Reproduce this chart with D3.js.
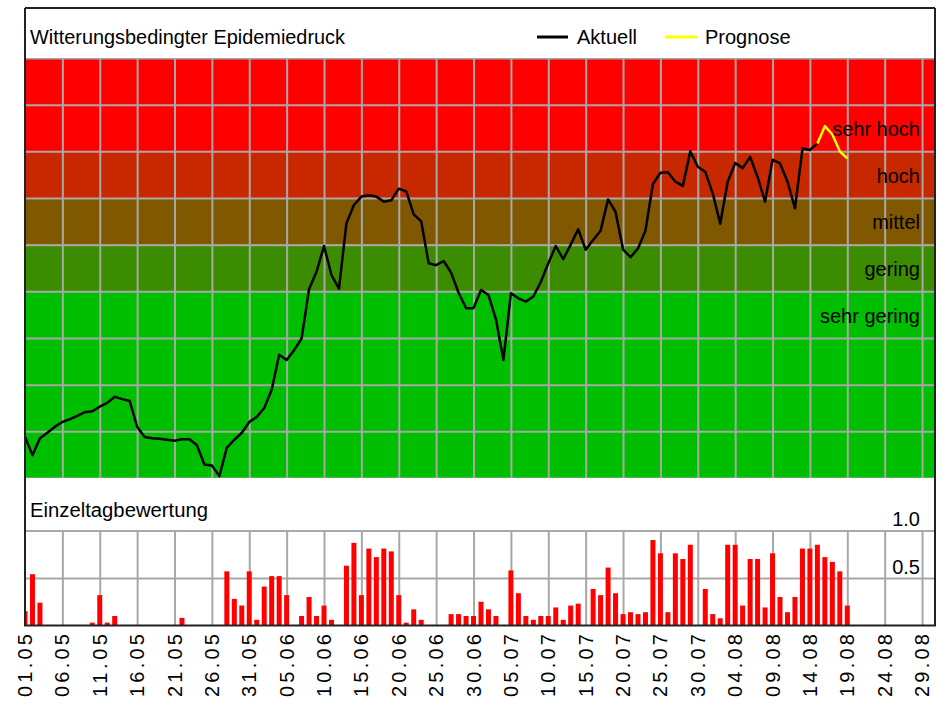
<!DOCTYPE html>
<html><head><meta charset="utf-8">
<script src="https://cdn.jsdelivr.net/npm/d3@7"></script>
<style>
html,body{margin:0;padding:0;background:#fff;}
svg{display:block;font-family:"Liberation Sans",Arial,sans-serif;}
</style></head><body>
<svg id="chart" width="941" height="701"></svg>
<script>
// ---------- DATA ----------
const tickLabels = ["01.05","06.05","11.05","16.05","21.05","26.05","31.05","05.06","10.06","15.06","20.06","25.06","30.06","05.07","10.07","15.07","20.07","25.07","30.07","04.08","09.08","14.08","19.08","24.08","29.08"];
const tickDays = [0,5,10,15,20,25,30,35,40,45,50,55,60,65,70,75,80,85,90,95,100,105,110,115,120];

const bandNames  = ["sehr gering","gering","mittel","hoch","sehr hoch"];
const bandLower  = [0,4,5,6,7];
const bandUpper  = [4,5,6,7,9];
const bandLabelAt = [3.5,4.5,5.5,6.5,7.5];
const bandColors = ["#00be00","#3c8c00","#805800","#c82800","#ff0000"];

// daily values starting 01.05 (day 0)
const aktuell = [0.88,0.49,0.85,0.97,1.10,1.20,1.26,1.33,1.41,1.43,
  1.53,1.61,1.74,1.69,1.65,1.10,0.88,0.85,0.84,0.82,
  0.80,0.83,0.83,0.70,0.29,0.27,0.04,0.65,0.82,0.97,
  1.20,1.31,1.50,1.89,2.64,2.53,2.74,2.99,4.05,4.42,
  4.97,4.35,4.06,5.46,5.85,6.03,6.06,6.03,5.92,5.95,
  6.20,6.14,5.65,5.50,4.60,4.56,4.65,4.40,3.97,3.64,
  3.64,4.03,3.92,3.40,2.53,3.96,3.85,3.78,3.89,4.20,
  4.60,4.97,4.69,5.00,5.33,4.89,5.10,5.30,5.97,5.70,
  4.90,4.73,4.92,5.30,6.30,6.54,6.55,6.35,6.26,7.00,
  6.67,6.56,6.10,5.45,6.35,6.75,6.64,6.88,6.45,5.92,
  6.82,6.74,6.35,5.78,7.06,7.03,7.17];
const prognoseStart = 106;
const prognose = [7.17,7.54,7.36,7.00,6.85];

const einzeltag = [0.15,0.54,0.24,0,0,0,0,0,0,0.03,
  0.32,0.03,0.10,0,0,0,0,0,0,0,
  0,0.08,0,0,0,0,0,0.57,0.28,0.21,
  0.57,0.06,0.41,0.52,0.52,0.32,0,0.10,0.30,0.10,
  0.21,0.06,0,0.63,0.87,0.32,0.81,0.72,0.81,0.78,
  0.32,0.03,0.17,0.06,0,0,0,0.12,0.12,0.10,
  0.10,0.25,0.17,0.10,0,0.58,0.34,0.10,0.06,0.10,
  0.10,0.19,0.06,0.21,0.23,0,0.385,0.32,0.61,0.34,
  0.12,0.14,0.12,0.14,0.90,0.76,0.14,0.76,0.70,0.85,
  0,0.385,0.12,0.076,0.85,0.85,0.21,0.70,0.70,0.19,
  0.76,0.30,0.14,0.30,0.81,0.81,0.85,0.72,0.67,0.57,
  0.21];
const einzelTicks = [0.5, 1.0];
const einzelTickLabels = ["0.5","1.0"];

(function(){
// ---------- LAYOUT ----------
const L = 25, R = 935, TOP = 8;
const svg = d3.select("#chart");
const x = d3.scaleLinear().domain([0,122]).range([25,937]);
const yT = d3.scaleLinear().domain([0,9]).range([478,58]);
const yB = d3.scaleLinear().domain([0,1]).range([625.5,530.5]);
const gridCol = "#a8a8a8";

const defs = svg.append("defs");
defs.append("clipPath").attr("id","clipTop").append("rect")
  .attr("x",L).attr("y",yT(9)).attr("width",R-L).attr("height",yT(0)-yT(9));
defs.append("clipPath").attr("id","clipBot").append("rect")
  .attr("x",L).attr("y",yB(1)-1).attr("width",R-L).attr("height",yB(0)-yB(1)+1);

// ---------- UPPER PANEL ----------
const gTop = svg.append("g").attr("clip-path","url(#clipTop)");
gTop.selectAll("rect.band").data(bandNames).join("rect")
  .attr("x",L).attr("width",R-L)
  .attr("y",(d,i)=>yT(bandUpper[i]))
  .attr("height",(d,i)=>yT(bandLower[i])-yT(bandUpper[i]))
  .attr("fill",(d,i)=>bandColors[i]);

const yGrid = d3.axisLeft(yT).ticks(9).tickSize(-(R-L)).tickFormat("");
gTop.append("g").attr("transform",`translate(${L},0)`).call(yGrid)
  .call(g=>g.select(".domain").remove())
  .call(g=>g.selectAll("line").attr("stroke",gridCol).attr("stroke-width",2));
const xGridTop = d3.axisBottom(x).tickValues(tickDays.slice(1)).tickSize(-(yT(0)-yT(9))).tickFormat("");
gTop.append("g").attr("transform",`translate(0,${yT(0)})`).call(xGridTop)
  .call(g=>g.select(".domain").remove())
  .call(g=>g.selectAll("line").attr("stroke",gridCol).attr("stroke-width",2));

gTop.selectAll("text.band").data(bandNames).join("text")
  .attr("x",920).attr("y",(d,i)=>yT(bandLabelAt[i])+8)
  .attr("text-anchor","end").attr("font-size",20).attr("fill","#000")
  .text(d=>d);

const line = d3.line().x(d=>x(d[0])).y(d=>yT(d[1])).curve(d3.curveLinear);
gTop.append("path").datum(aktuell.map((v,i)=>[i,v]))
  .attr("d",line).attr("fill","none").attr("stroke","#000")
  .attr("stroke-width",2.5).attr("stroke-linejoin","round");
gTop.append("path").datum(prognose.map((v,i)=>[prognoseStart+i,v]))
  .attr("d",line).attr("fill","none").attr("stroke","#ffff00")
  .attr("stroke-width",2.5).attr("stroke-linejoin","round");

// title + legend
svg.append("text").attr("x",30).attr("y",44).attr("font-size",20)
  .attr("textLength",315).attr("lengthAdjust","spacingAndGlyphs")
  .text("Witterungsbedingter Epidemiedruck");
svg.append("line").attr("x1",537).attr("x2",568).attr("y1",37).attr("y2",37)
  .attr("stroke","#000").attr("stroke-width",3);
svg.append("text").attr("x",577).attr("y",44).attr("font-size",20).text("Aktuell");
svg.append("line").attr("x1",665).attr("x2",697).attr("y1",37).attr("y2",37)
  .attr("stroke","#ffff00").attr("stroke-width",3);
svg.append("text").attr("x",705).attr("y",44).attr("font-size",20).text("Prognose");

// ---------- LOWER PANEL ----------
svg.append("text").attr("x",30).attr("y",517).attr("font-size",20)
  .attr("textLength",178).attr("lengthAdjust","spacingAndGlyphs")
  .text("Einzeltagbewertung");

const gBot = svg.append("g").attr("clip-path","url(#clipBot)");
const yGridB = d3.axisLeft(yB).tickValues(einzelTicks).tickSize(-(R-L)).tickFormat("");
gBot.append("g").attr("transform",`translate(${L},0)`).call(yGridB)
  .call(g=>g.select(".domain").remove())
  .call(g=>g.selectAll("line").attr("stroke",gridCol).attr("stroke-width",2));
const xGridBot = d3.axisBottom(x).tickValues(tickDays.slice(1)).tickSize(-(yB(0)-yB(1))).tickFormat("");
gBot.append("g").attr("transform",`translate(0,${yB(0)})`).call(xGridBot)
  .call(g=>g.select(".domain").remove())
  .call(g=>g.selectAll("line").attr("stroke",gridCol).attr("stroke-width",2));

const bw = 5;
gBot.selectAll("rect.bar").data(einzeltag).join("rect")
  .attr("x",(d,i)=>x(i)-bw/2).attr("width",bw)
  .attr("y",d=>yB(d)).attr("height",d=>yB(0)-yB(d))
  .attr("fill","#ff0000");

svg.selectAll("text.ylab").data(einzelTicks).join("text")
  .attr("x",920).attr("y",d=>yB(d)-4.5).attr("text-anchor","end")
  .attr("font-size",20).text((d,i)=>einzelTickLabels[i]);

// x labels (rotated)
svg.selectAll("text.xlab").data(tickDays).join("text")
  .attr("transform",d=>`translate(${x(d)+7},697) rotate(-90)`)
  .attr("font-size",20).attr("textLength",63).attr("lengthAdjust","spacing")
  .text((d,i)=>tickLabels[i]);

// ---------- FRAME ----------
const fr = svg.append("g").attr("stroke","#222").attr("stroke-width",2).attr("fill","none");
fr.append("line").attr("x1",L).attr("x2",R).attr("y1",TOP).attr("y2",TOP);
fr.append("line").attr("x1",L).attr("x2",L).attr("y1",TOP).attr("y2",yB(0));
fr.append("line").attr("x1",R).attr("x2",R).attr("y1",TOP).attr("y2",yB(0));
fr.append("line").attr("x1",L-1).attr("x2",R+1).attr("y1",yB(0)).attr("y2",yB(0));
})();
</script>
</body></html>
